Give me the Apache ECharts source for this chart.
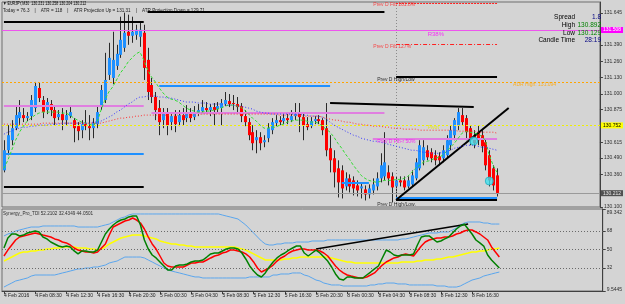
<!DOCTYPE html>
<html><head><meta charset="utf-8">
<script src="https://cdn.jsdelivr.net/npm/echarts@6/dist/echarts.min.js"></script>
<style>html,body{margin:0;padding:0;background:#d4d4d4;overflow:hidden}#c{width:625px;height:304px}</style>
</head><body><div id="c"></div>
<script>
// ---------- DATA ----------
const xTickLabels = ['4 Feb 2016','4 Feb 08:30','4 Feb 12:30','4 Feb 16:30','4 Feb 20:30','5 Feb 00:30','5 Feb 04:30','5 Feb 08:30','5 Feb 12:30','5 Feb 16:30','5 Feb 20:30','8 Feb 00:30','8 Feb 04:30','8 Feb 08:30','8 Feb 12:30','8 Feb 16:30'];
const priceTicks = [131.645,131.390,131.260,131.130,131.000,130.875,130.615,130.490,130.360,130.100];
const tdiTicks = [89.342,68,50,32,9.5445];
const tdiLevels = [68,50,32];

// [open, close, low, high]
const ohlc = [
[130.392,130.552,130.376,130.632],[130.552,130.672,130.512,130.752],[130.632,130.728,130.592,130.792],[130.728,130.832,130.712,130.912],
[130.808,130.856,130.752,130.952],[130.832,130.808,130.776,130.888],[130.808,130.824,130.784,130.856],[130.824,130.952,130.792,130.992],
[130.888,131.064,130.856,131.096],[131.048,130.968,130.936,131.088],[130.952,130.856,130.808,130.984],[130.872,130.936,130.840,130.968],
[130.920,130.872,130.824,130.952],[130.872,130.808,130.752,130.912],[130.816,130.840,130.792,130.872],[130.840,130.792,130.712,130.888],
[130.792,130.832,130.752,130.872],[130.824,130.856,130.808,130.896],[130.792,130.728,130.616,130.808],[130.744,130.704,130.632,130.776],
[130.712,130.760,130.648,130.792],[130.760,130.744,130.712,130.872],[130.744,130.728,130.632,130.832],[130.728,130.768,130.648,130.808],
[130.760,130.856,130.728,130.912],[130.896,131.032,130.872,131.072],[130.952,131.112,130.928,131.328],[131.152,131.288,131.112,131.408],
[131.128,131.272,131.080,131.496],[131.224,131.320,131.192,131.392],[131.312,131.432,131.288,131.616],[131.368,131.488,131.336,131.648],
[131.496,131.464,131.392,131.632],[131.464,131.496,131.408,131.616],[131.472,131.512,131.432,131.552],[131.456,131.512,131.376,131.576],
[131.488,131.208,131.112,131.552],[131.272,131.016,130.952,131.368],[131.072,130.976,130.928,131.128],[130.976,130.872,130.792,131.016],
[130.888,130.776,130.672,130.952],[130.792,130.856,130.728,130.888],[130.856,130.752,130.672,130.888],[130.776,130.824,130.712,130.856],
[130.824,130.760,130.696,130.872],[130.776,130.832,130.744,130.872],[130.832,130.792,130.752,130.888],[130.808,130.856,130.776,130.912],
[130.848,130.808,130.776,130.888],[130.816,130.856,130.792,130.904],[130.856,130.872,130.824,130.920],[130.864,130.896,130.840,130.952],
[130.888,130.872,130.840,130.936],[130.872,130.896,130.824,130.920],[130.896,130.872,130.752,130.928],[130.880,130.904,130.856,130.936],
[130.888,130.928,130.752,130.960],[130.920,130.952,130.904,131.016],[130.944,130.920,130.896,131.000],[130.928,130.920,130.872,130.992],
[130.920,130.896,130.856,130.976],[130.904,130.824,130.776,130.928],[130.824,130.776,130.744,130.872],[130.776,130.672,130.632,130.808],
[130.696,130.608,130.552,130.752],[130.632,130.656,130.528,130.712],[130.656,130.608,130.552,130.696],[130.616,130.632,130.576,130.672],
[130.648,130.728,130.616,130.768],[130.712,130.776,130.680,130.808],[130.768,130.792,130.744,130.832],[130.792,130.776,130.752,130.824],
[130.784,130.808,130.760,130.848],[130.808,130.792,130.760,130.856],[130.792,130.824,130.776,130.872],[130.824,130.848,130.792,130.928],
[130.848,130.816,130.696,130.928],[130.816,130.752,130.632,130.856],[130.760,130.736,130.712,130.816],[130.744,130.784,130.728,130.816],
[130.784,130.800,130.760,130.824],[130.800,130.784,130.760,130.832],[130.792,130.712,130.672,130.808],[130.728,130.552,130.504,130.928],
[130.568,130.472,130.376,130.672],[130.488,130.376,130.256,130.552],[130.408,130.296,130.176,130.472],[130.392,130.248,130.168,130.432],
[130.264,130.328,130.232,130.376],[130.328,130.264,130.216,130.360],[130.312,130.248,130.192,130.344],[130.272,130.232,130.184,130.312],
[130.248,130.264,130.168,130.296],[130.240,130.200,130.152,130.272],[130.200,130.248,130.168,130.280],[130.232,130.280,130.200,130.328],
[130.264,130.328,130.232,130.376],[130.328,130.432,130.296,130.528],[130.344,130.456,130.312,130.696],[130.376,130.328,130.272,130.432],
[130.344,130.256,130.136,130.376],[130.264,130.312,130.152,130.344],[130.312,130.296,130.264,130.344],[130.312,130.256,130.232,130.344],
[130.264,130.312,130.248,130.344],[130.280,130.352,130.264,130.392],[130.328,130.456,130.312,130.488],[130.408,130.592,130.392,130.632],
[130.472,130.576,130.432,130.632],[130.552,130.496,130.472,130.592],[130.536,130.488,130.456,130.568],[130.512,130.472,130.432,130.552],
[130.504,130.472,130.432,130.536],[130.488,130.552,130.456,130.592],[130.512,130.632,130.488,130.672],[130.592,130.712,130.552,130.752],
[130.672,130.792,130.632,130.808],[130.752,130.856,130.712,130.888],[130.832,130.776,130.752,130.888],[130.808,130.696,130.632,130.832],
[130.728,130.632,130.592,130.752],[130.672,130.608,130.568,130.712],[130.688,130.632,130.592,130.752],[130.672,130.584,130.536,130.712],
[130.616,130.432,130.392,130.648],[130.512,130.312,130.264,130.552],[130.408,130.272,130.232,130.432],[130.352,130.212,130.184,130.408]
];

const maFast = [
130.408,130.472,130.552,130.632,130.696,130.744,130.784,130.808,130.832,130.848,
130.856,130.856,130.856,130.856,130.856,130.848,130.848,130.832,130.808,130.792,
130.776,130.768,130.760,130.752,130.776,130.872,130.952,131.016,131.056,131.112,
131.168,131.208,131.256,131.288,131.320,131.336,131.272,131.192,131.136,131.096,
131.048,131.008,130.976,130.960,130.952,130.936,130.912,130.888,130.872,130.864,
130.856,130.856,130.864,130.864,130.872,130.880,130.888,130.904,130.912,130.912,
130.904,130.896,130.872,130.840,130.808,130.784,130.752,130.728,130.728,130.736,
130.736,130.752,130.760,130.776,130.784,130.792,130.792,130.792,130.784,130.776,
130.776,130.768,130.744,130.720,130.696,130.656,130.608,130.568,130.520,130.480,
130.432,130.392,130.352,130.328,130.312,130.304,130.296,130.304,130.312,130.312,
130.312,130.320,130.320,130.328,130.344,130.376,130.408,130.432,130.456,130.464,
130.472,130.488,130.496,130.512,130.544,130.576,130.608,130.648,130.688,130.704,
130.696,130.688,130.680,130.664,130.632,130.512,130.432,130.376];

const maMid = [
130.680,130.696,130.704,130.720,130.728,130.736,130.736,130.744,130.744,130.752,
130.752,130.752,130.760,130.760,130.760,130.768,130.768,130.768,130.768,130.768,
130.768,130.768,130.768,130.776,130.776,130.784,130.800,130.816,130.832,130.856,
130.872,130.896,130.920,130.936,130.960,130.976,130.976,130.984,130.984,130.984,
130.976,130.976,130.968,130.968,130.960,130.952,130.944,130.936,130.936,130.936,
130.928,130.928,130.928,130.920,130.920,130.920,130.920,130.912,130.912,130.912,
130.904,130.904,130.896,130.888,130.880,130.864,130.856,130.848,130.848,130.840,
130.840,130.840,130.840,130.840,130.840,130.840,130.840,130.832,130.832,130.824,
130.824,130.824,130.816,130.800,130.776,130.752,130.736,130.720,130.704,130.688,
130.672,130.664,130.648,130.640,130.632,130.624,130.624,130.616,130.608,130.600,
130.592,130.584,130.576,130.568,130.560,130.552,130.552,130.544,130.536,130.536,
130.528,130.528,130.528,130.536,130.544,130.552,130.568,130.576,130.584,130.592,
130.592,130.592,130.584,130.576,130.576,130.568,130.560,130.552];

const maSlow = [
130.760,130.760,130.760,130.760,130.760,130.760,130.760,130.760,130.760,130.760,
130.768,130.768,130.768,130.768,130.768,130.768,130.768,130.768,130.768,130.768,
130.768,130.768,130.768,130.768,130.768,130.768,130.776,130.784,130.792,130.800,
130.808,130.808,130.816,130.816,130.824,130.824,130.832,130.832,130.832,130.832,
130.832,130.832,130.832,130.832,130.832,130.832,130.832,130.832,130.832,130.832,
130.832,130.840,130.840,130.840,130.840,130.840,130.840,130.840,130.840,130.840,
130.840,130.840,130.840,130.840,130.840,130.840,130.840,130.840,130.840,130.840,
130.840,130.832,130.832,130.832,130.832,130.832,130.832,130.824,130.824,130.824,
130.824,130.824,130.816,130.808,130.800,130.792,130.792,130.784,130.776,130.776,
130.768,130.760,130.760,130.752,130.752,130.744,130.744,130.744,130.736,130.736,
130.728,130.728,130.728,130.720,130.720,130.720,130.720,130.712,130.712,130.712,
130.712,130.712,130.712,130.712,130.712,130.712,130.712,130.704,130.704,130.704,
130.704,130.704,130.696,130.696,130.696,130.696,130.696,130.688];

const tdiPrice = [
51.4,61.1,65.0,65.0,63.1,64.0,66.0,67.0,67.9,67.0,
62.1,60.2,57.2,55.3,53.3,52.4,53.3,52.4,48.5,45.6,
48.5,48.5,47.5,47.5,49.4,57.2,65.0,69.9,73.8,76.7,
78.6,79.6,81.6,82.5,82.5,73.8,59.2,50.4,44.6,41.7,
37.8,33.9,30.0,30.0,33.9,34.8,34.8,35.8,37.8,38.7,
38.7,39.7,42.6,45.6,46.5,46.5,48.5,50.4,51.4,51.4,
50.4,46.5,40.7,33.9,29.0,25.1,23.2,27.1,32.9,37.8,
41.7,44.6,46.5,49.4,51.4,53.3,53.3,46.5,43.6,46.5,
49.4,46.5,42.6,38.7,32.9,26.1,21.2,20.2,23.2,23.2,
22.2,22.2,22.2,25.1,28.0,31.0,33.9,41.7,49.4,47.5,
44.6,43.6,44.6,44.6,44.6,45.6,54.3,62.1,63.1,63.1,
60.2,57.2,58.2,60.2,62.1,66.0,69.9,72.8,74.7,69.9,
65.0,59.2,56.3,53.3,44.6,39.7,35.8,31.9];

const tdiSignal = [
43.6,49.4,54.3,59.2,62.1,63.1,64.0,65.0,66.0,65.0,
64.0,63.1,62.1,60.2,59.2,57.2,56.3,54.3,51.4,49.4,
48.5,47.5,47.5,46.5,47.5,51.4,55.3,64.0,71.8,73.8,
75.7,77.7,78.6,80.6,78.6,75.7,69.9,62.1,55.3,50.4,
43.6,36.8,33.9,32.9,32.9,32.9,32.9,34.8,36.8,36.8,
37.8,37.8,39.7,41.7,43.6,44.6,46.5,47.5,49.4,49.4,
48.5,47.5,45.6,42.6,37.8,31.9,28.0,30.0,31.9,34.8,
38.7,41.7,43.6,46.5,48.5,49.4,50.4,50.4,49.4,49.4,
49.4,48.5,46.5,43.6,38.7,33.9,30.0,27.1,25.1,24.1,
23.2,22.2,22.2,23.2,25.1,27.1,31.0,34.8,37.8,39.7,
41.7,42.6,44.6,45.6,44.6,43.6,48.5,53.3,57.2,59.2,
60.2,61.1,61.1,62.1,62.1,63.1,65.0,66.0,67.9,68.9,
68.9,67.0,65.0,62.1,59.2,52.4,47.5,42.6];

const tdiBase = [
38.7,40.7,42.6,44.6,46.5,47.5,47.5,48.5,48.5,49.4,
49.4,50.4,50.4,51.4,51.4,52.4,52.4,52.4,52.4,51.4,
51.4,51.4,50.4,50.4,49.4,50.4,52.4,55.3,57.2,59.2,
61.1,62.1,63.1,64.0,64.0,64.0,63.1,62.1,61.1,60.2,
58.2,57.2,56.3,55.3,55.3,54.3,54.3,53.3,53.3,52.4,
52.4,52.4,52.4,52.4,52.4,52.4,52.4,52.4,52.4,52.4,
51.4,50.4,49.4,47.5,45.6,43.6,41.7,39.7,39.7,39.7,
39.7,39.7,40.7,40.7,41.7,41.7,42.6,42.6,42.6,42.6,
42.6,42.6,42.6,42.6,41.7,40.7,39.7,38.7,37.8,37.8,
36.8,36.8,36.8,36.8,36.8,36.8,36.8,36.8,36.8,36.8,
36.8,36.8,37.8,37.8,37.8,37.8,38.7,38.7,39.7,39.7,
39.7,40.7,40.7,41.7,42.6,42.6,43.6,44.6,45.6,46.5,
47.5,47.5,48.5,48.5,49.4,50.4,50.4,51.4];

const tdiUpper = [
63.1,65.0,66.0,67.9,68.9,69.9,70.9,71.8,71.8,71.8,
72.8,72.8,72.8,72.8,72.8,72.8,72.8,72.8,72.8,71.8,
71.8,71.8,71.8,71.8,71.8,72.8,73.8,74.7,76.7,78.6,
80.6,81.6,83.5,84.5,84.5,84.5,84.5,84.5,84.5,84.5,
84.5,84.5,84.5,84.5,84.5,84.5,84.5,84.5,84.5,84.5,
84.5,84.5,84.5,84.5,84.5,84.5,83.5,82.5,81.6,80.6,
79.6,76.7,73.8,69.9,66.0,62.1,58.2,55.3,54.3,54.3,
55.3,55.3,56.3,56.3,56.3,57.2,57.2,57.2,57.2,58.2,
58.2,58.2,58.2,59.2,59.2,59.2,59.2,59.2,59.2,59.2,
59.2,59.2,59.2,59.2,59.2,59.2,59.2,59.2,59.2,59.2,
59.2,59.2,60.2,60.2,61.1,62.1,63.1,64.0,65.0,66.0,
66.0,66.0,67.0,67.0,67.0,68.9,70.9,73.8,75.7,76.7,
76.7,76.7,76.7,75.7,75.7,74.7,74.7,74.7];

const tdiLower = [
13.4,15.4,17.3,19.3,20.2,21.2,22.2,24.1,25.1,25.1,
25.1,25.1,25.1,25.1,26.1,27.1,28.0,29.0,30.0,31.0,
31.0,31.9,31.9,32.9,32.9,33.9,34.8,36.8,37.8,38.7,
40.7,42.6,42.6,42.6,42.6,42.6,41.7,39.7,37.8,35.8,
33.9,31.9,30.0,29.0,28.0,27.1,26.1,25.1,24.1,23.2,
23.2,22.2,22.2,22.2,22.2,22.2,22.2,22.2,22.2,22.2,
22.2,22.2,22.2,23.2,23.2,23.2,23.2,23.2,23.2,25.1,
25.1,26.1,26.1,26.1,27.1,27.1,27.1,25.1,24.1,22.2,
20.2,19.3,17.3,16.4,15.4,15.4,15.4,14.4,14.4,14.4,
14.4,14.4,14.4,14.4,15.4,15.4,16.4,16.4,17.3,17.3,
17.3,16.4,16.4,16.4,15.4,15.4,15.4,15.4,15.4,15.4,
15.4,14.4,14.4,14.4,13.4,13.4,13.4,14.4,16.4,18.3,
20.2,21.2,22.2,24.1,25.1,26.1,27.1,28.0];

// Horizontal levels: [price, fromBar, toBar]
const blackLevels = [[131.574,0,36],[131.653,37,98],[130.259,0,36],[131.140,101,127],[130.156,101,127]];
const blueLevels = [[130.522,0,36],[131.068,40,84],[130.291,87,94],[130.172,101,127]];
const violetLevels = [[130.905,0,36],[130.849,38,98],[130.642,95,127]];
const fibLevels = [[131.725,101,127],[131.398,101,127]];
const r38Level = 131.508, adrHigh = 131.094, pivot = 130.752, bid = 130.212;
const daySeparatorBar = 101;
// Trend lines: [[bar, price], [bar, price]]
const priceTrendLines = [[[84,130.928],[121,130.897]],[[101,130.156],[130,130.889]]];
const tdiTrendLine = [[80,50.4],[119,74.7]];
const signalPoints = [[121,130.626],[125,130.307]];
// Annotation texts: [text, bar, price]
const annotations = [
 ['Prev D Fib 161.8%',95,131.709],['R38%',109,131.478],['Prev D Fib 127%',95,131.375],
 ['Prev D High/Low',96,131.112],['ADR High: 131.094',131,131.072],['Pivot',109,130.730],
 ['Prev D Fib-r 50%',96,130.618],['Prev D High/Low.',96,130.116]];
const headerLine1 = '\u25BC EURJPY,M30  130.231 130.258 130.204 130.212';
const headerLine2 = 'Today = 76.3    |    ATR = 118    |    ATR Projection Up = 131.31    |    ATR Projection Down = 129.71';
const infoRows = [['Spread','1.8'],['High','130.892'],['Low','130.129'],['Candle Time','28:19']];
const tdiTitle = 'Synergy_Pro_TDI 52.2102 32.4349 44.0501';

// ---------- CATEGORIES ----------
const TOTAL_SLOTS = 154;
const xCats = [];
{
  let t = Date.UTC(2016,1,4,4,30);
  for (let i = 0; i < TOTAL_SLOTS; i++) {
    const d = new Date(t);
    xCats.push(d.getUTCDate()+' Feb '+String(d.getUTCHours()).padStart(2,'0')+':'+String(d.getUTCMinutes()).padStart(2,'0'));
    t += 1800000;
    if (d.getUTCDay() === 5 && d.getUTCHours() === 23 && d.getUTCMinutes() === 30) t = Date.UTC(2016,1,8,0,0);
  }
}

// ---------- CHART ----------
const FONT = '"Liberation Sans", Arial, sans-serif';
const chart = echarts.init(document.getElementById('c'), null, {renderer:'canvas', width:625, height:304});

function seg(arr, style) {
  return arr.map(([p,a,b]) => [{coord:[a,p], lineStyle:style}, {coord:[b,p]}]);
}
const labelIdx = i => i % 8 === 0 && i/8 < xTickLabels.length;
const annColors = ['#ff2020','#ff00ff','#ff2020','#000000','#ffa500','#e6e600','#ff00ff','#000000'];

const option = {
  backgroundColor:'#d4d4d4',
  animation:false,
  textStyle:{fontFamily:FONT},
  grid:[
    {left:2, right:22, top:2, height:205, show:true, borderColor:'#6e6e6e', borderWidth:1, backgroundColor:'transparent'},
    {left:2, right:22, top:209, height:82, show:true, borderColor:'#6e6e6e', borderWidth:1, backgroundColor:'transparent'}
  ],
  xAxis:[
    {type:'category', gridIndex:0, data:xCats, boundaryGap:true, show:false},
    {type:'category', gridIndex:1, data:xCats, boundaryGap:true,
     axisLine:{show:true, lineStyle:{color:'#404040'}},
     axisTick:{show:true, interval:labelIdx, alignWithLabel:true, length:3, lineStyle:{color:'#404040'}},
     axisLabel:{interval:labelIdx, formatter:(v,i)=>xTickLabels[i/8]||'', fontSize:5, color:'#202020', align:'left', margin:2, fontFamily:FONT},
     splitLine:{show:false}}
  ],
  yAxis:[
    {type:'value', gridIndex:0, position:'right', min:130.100, max:131.733, scale:true,
     axisLine:{show:true, lineStyle:{color:'#404040'}},
     axisTick:{show:true, length:3, customValues:priceTicks, lineStyle:{color:'#404040'}},
     axisLabel:{customValues:priceTicks, formatter:v=>v.toFixed(3), fontSize:5, color:'#303030', margin:4, fontFamily:FONT},
     splitLine:{show:false}},
    {type:'value', gridIndex:1, position:'right', min:9.5445, max:89.342,
     axisLine:{show:true, lineStyle:{color:'#404040'}},
     axisTick:{show:true, length:3, customValues:tdiTicks, lineStyle:{color:'#404040'}},
     axisLabel:{customValues:tdiTicks, fontSize:5, color:'#303030', margin:4, fontFamily:FONT,
       formatter:v=> v===tdiTicks[0] ? '{t|'+v+'}' : (v===tdiTicks[4] ? '{b|'+v+'}' : String(v)),
       rich:{t:{fontSize:5, color:'#303030', padding:[8,0,0,0]}, b:{fontSize:5, color:'#303030', padding:[0,0,3,0]}}},
     splitLine:{show:false}}
  ],
  graphic:[
    {type:'text', x:3, y:4, scaleX:0.72, style:{text:headerLine1, font:'5px '+FONT, fill:'#000', verticalAlign:'middle'}},
    {type:'text', x:3, y:11, style:{text:headerLine2, font:'4.6px '+FONT, fill:'#202020', verticalAlign:'middle'}},
    ...infoRows.flatMap((r,k)=>{
      const ys=[17,25,33,40];
      const vc=['#000080','#008000','#008000','#000080'];
      return [
        {type:'text', x:575, y:ys[k], z:100, style:{text:r[0], font:'6.5px '+FONT, fill:'#000', align:'right', verticalAlign:'middle'}},
        {type:'text', x:601, y:ys[k], z:100, style:{text:r[1], font:'6.5px '+FONT, fill:vc[k], align:'right', verticalAlign:'middle'}}
      ];
    }),
    {type:'text', x:3, y:214, style:{text:tdiTitle, font:'4.6px '+FONT, fill:'#303030', verticalAlign:'middle'}}
  ],
  series:[
    {type:'custom', name:'candles', xAxisIndex:0, yAxisIndex:0, z:3,
     data: ohlc.map((d,i)=>[i,d[0],d[1],d[2],d[3]]),
     encode:{x:0, y:[1,2,3,4]},
     renderItem:(params, api)=>{
       const i=api.value(0), o=api.value(1), c=api.value(2), l=api.value(3), h=api.value(4);
       const pO=api.coord([i,o]), pC=api.coord([i,c]), pL=api.coord([i,l]), pH=api.coord([i,h]);
       const cx=Math.round(pO[0])+0.5;
       const top=Math.min(pO[1],pC[1]), hgt=Math.max(1,Math.abs(pO[1]-pC[1]));
       const up=c>o, flat=Math.abs(c-o)<0.004;
       return {type:'group', children:[
         {type:'line', shape:{x1:cx,y1:pH[1],x2:cx,y2:pL[1]}, style:{stroke:'#2a2a2a', lineWidth:1}},
         {type:'rect', shape:{x:cx-1.5, y:top, width:3, height:hgt}, style:{fill: flat?'#222':(up?'#1e90ff':'#ff0000')}}
       ]};
     }},
    {type:'line', name:'maFast', xAxisIndex:0, yAxisIndex:0, data:maFast, symbol:'none', z:6,
     lineStyle:{color:'#33dd33', width:1, type:[3,2]}},
    {type:'line', name:'maMid', xAxisIndex:0, yAxisIndex:0, data:maMid, symbol:'none', z:6,
     lineStyle:{color:'#3838ff', width:1, type:[1,2]}},
    {type:'line', name:'maSlow', xAxisIndex:0, yAxisIndex:0, data:maSlow, symbol:'none', z:6, clip:false,
     lineStyle:{color:'#ff3030', width:1, type:[1,2]},
     markLine:{symbol:['none','none'], silent:true, animation:false, label:{show:false}, emphasis:{disabled:true},
       data:[
         {yAxis:adrHigh, lineStyle:{color:'#ffa500', width:1, type:[2,2]}, label:{show:false}},
         {yAxis:pivot, lineStyle:{color:'#f0f000', width:1, type:[2,2]},
          label:{show:true, position:'end', distance:1, formatter:pivot.toFixed(3), color:'#000', backgroundColor:'#ffff00', padding:[1,2,0,2], fontSize:5}},
         {yAxis:bid, lineStyle:{color:'#9a9a9a', width:1, type:'solid'},
          label:{show:true, position:'end', distance:1, formatter:bid.toFixed(3), color:'#e8e8e8', backgroundColor:'#505050', padding:[1,2,0,2], fontSize:5}},
         {yAxis:r38Level, lineStyle:{color:'#ee55ee', width:1, type:'solid'},
          label:{show:true, position:'end', distance:1, formatter:r38Level.toFixed(3), color:'#ffffff', backgroundColor:'#ff00ff', padding:[1,2,0,2], fontSize:5}},
         {xAxis:daySeparatorBar, lineStyle:{color:'#8a8a8a', width:1, type:[1,2]}, label:{show:false}},
         ...seg(blackLevels, {color:'#000', width:2, type:'solid'}),
         ...seg(blueLevels, {color:'#1e90ff', width:2, type:'solid'}),
         ...seg(violetLevels, {color:'#e07ee0', width:2, type:'solid'}),
         [{coord:[fibLevels[0][1],fibLevels[0][0]], lineStyle:{color:'#ff2020', width:1, type:[2,1]}},{coord:[fibLevels[0][2],fibLevels[0][0]]}],
         [{coord:[fibLevels[1][1],fibLevels[1][0]], lineStyle:{color:'#ff2020', width:1, type:[4,2,1,2]}},{coord:[fibLevels[1][2],fibLevels[1][0]]}],
         ...priceTrendLines.map(([a,b])=>[{coord:a, lineStyle:{color:'#000', width:2, type:'solid'}},{coord:b}])
       ]}},
    {type:'scatter', name:'signals', xAxisIndex:0, yAxisIndex:0, data:signalPoints, symbol:'circle', symbolSize:8, z:8,
     itemStyle:{color:'#40e0ee', borderColor:'#20b0c0', borderWidth:1}},
    {type:'scatter', name:'annotations', xAxisIndex:0, yAxisIndex:0, z:9, symbolSize:1,
     itemStyle:{color:'rgba(0,0,0,0)'},
     data: annotations.map((a,k)=>({value:[a[1],a[2]],
        label:{show:true, position:'right', distance:0, formatter:a[0], color:annColors[k], fontSize:k===1?6:5, fontFamily:FONT}}))},
    // TDI pane
    {type:'line', name:'upper', xAxisIndex:1, yAxisIndex:1, data:tdiUpper, symbol:'none', z:3,
     lineStyle:{color:'#5aa6ee', width:1}},
    {type:'line', name:'lower', xAxisIndex:1, yAxisIndex:1, data:tdiLower, symbol:'none', z:3,
     lineStyle:{color:'#5aa6ee', width:1}},
    {type:'line', name:'base', xAxisIndex:1, yAxisIndex:1, data:tdiBase, symbol:'none', z:4, clip:false,
     lineStyle:{color:'#ffff00', width:1.5},
     markLine:{symbol:['none','none'], silent:true, animation:false, label:{show:false}, emphasis:{disabled:true},
       data:[
         ...tdiLevels.map(v=>({yAxis:v, lineStyle:{color:'#6a6a6a', width:1, type:[1,2]}})),
         [{coord:tdiTrendLine[0], lineStyle:{color:'#000', width:1.5, type:'solid'}},{coord:tdiTrendLine[1]}]
       ]}},
    {type:'line', name:'signal', xAxisIndex:1, yAxisIndex:1, data:tdiSignal, symbol:'none', z:5,
     lineStyle:{color:'#ff0000', width:1.5}},
    {type:'line', name:'price', xAxisIndex:1, yAxisIndex:1, data:tdiPrice, symbol:'none', z:6,
     lineStyle:{color:'#008000', width:1.5}}
  ]
};
chart.setOption(option);
</script></body></html>
